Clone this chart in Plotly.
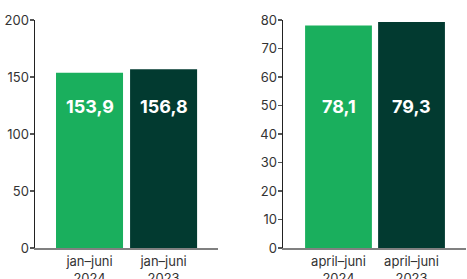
import plotly.graph_objects as go

left_categories = ["jan–juni<br>2024", "jan–juni<br>2023"]
left_values = [153.9, 156.8]
left_labels = ["153,9", "156,8"]
left_ticks = [0, 50, 100, 150, 200]

right_categories = ["april–juni<br>2024", "april–juni<br>2023"]
right_values = [78.1, 79.3]
right_labels = ["78,1", "79,3"]
right_ticks = [0, 10, 20, 30, 40, 50, 60, 70, 80]

colors = ["#1aaf5d", "#023a30"]
FONT = "Inter, Roboto, Liberation Sans, sans-serif"

fig = go.Figure()
fig.add_trace(go.Bar(x=left_categories, y=left_values, marker=dict(color=colors, line=dict(width=0)),
                     width=0.905, xaxis="x", yaxis="y", hoverinfo="skip"))
fig.add_trace(go.Bar(x=right_categories, y=right_values, marker=dict(color=colors, line=dict(width=0)),
                     width=0.915, xaxis="x2", yaxis="y2", hoverinfo="skip"))

ann = []
for c, t in zip(left_categories, left_labels):
    ann.append(dict(x=c, y=0.623, xref="x", yref="y domain", text=t, showarrow=False,
                    font=dict(color="white", size=18, family=FONT, weight="bold")))
for c, t in zip(right_categories, right_labels):
    ann.append(dict(x=c, y=0.623, xref="x2", yref="y2 domain", text=t, showarrow=False,
                    font=dict(color="white", size=18, family=FONT, weight="bold")))

ydom = [0.111, 0.928]
common_x = dict(type="category", showline=True, linecolor="#808080", linewidth=2, ticks="",
                tickfont=dict(size=13, color="#333", family=FONT), showgrid=False, fixedrange=True,
                automargin=False)
common_y = dict(showline=True, linecolor="#222", linewidth=1.5, ticks="outside", ticklen=4,
                tickcolor="#555", tickwidth=1.5, tickfont=dict(size=13, color="#333", family=FONT),
                showgrid=False, zeroline=False, domain=ydom, fixedrange=True, automargin=False,
                ticklabelstandoff=-2)

fig.update_layout(
    width=467, height=279, margin=dict(l=0, r=0, t=0, b=0, autoexpand=False),
    paper_bgcolor="white", plot_bgcolor="white", showlegend=False,
    font=dict(family=FONT),
    xaxis=dict(common_x, domain=[0.075, 0.467], range=[-0.736, 1.736], anchor="y"),
    yaxis=dict(common_y, range=[0, 200], tickvals=left_ticks, anchor="x"),
    xaxis2=dict(common_x, domain=[0.606, 0.998], range=[-0.76, 1.747], anchor="y2"),
    yaxis2=dict(common_y, range=[0, 80], tickvals=right_ticks, anchor="x2"),
    annotations=ann,
)
fig.write_html("out.html", config={"displayModeBar": False, "staticPlot": True},
               post_script="document.body.style.margin='0';document.body.style.overflow='hidden';")
